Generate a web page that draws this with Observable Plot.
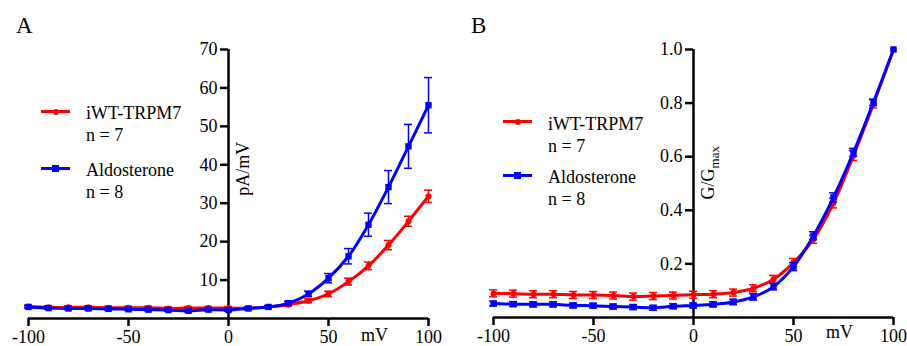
<!DOCTYPE html>
<html><head><meta charset="utf-8">
<script src="https://cdn.jsdelivr.net/npm/d3@7"></script>
<script src="https://cdn.jsdelivr.net/npm/@observablehq/plot@0.6"></script>
<style>
body{margin:0;background:#fff;}
#wrap{position:relative;width:907px;height:346px;overflow:hidden;font-family:"Liberation Serif","Times New Roman",serif;color:#000;}
.panel{position:absolute;top:0;}
.panel svg{overflow:visible;}
.lab{position:absolute;font-size:23px;line-height:22px;}
.leg{position:absolute;font-size:18px;line-height:22px;white-space:nowrap;}
.sw{position:absolute;height:3px;}
.mk{position:absolute;}
</style></head><body>
<div id="wrap">
  <div id="pa" class="panel" style="left:0px"></div>
  <div id="pb" class="panel" style="left:450px"></div>
  <div class="lab" style="left:16px;top:15px">A</div>
  <div class="lab" style="left:471px;top:15px">B</div>
</div>
<script>
// ---- data ----
const voltages = [-100,-90,-80,-70,-60,-50,-40,-30,-20,-10,0,10,20,30,40,50,60,70,80,90,100];
const seriesNames = ["iWT-TRPM7", "Aldosterone"];
const seriesN = ["n = 7", "n = 8"];

// Panel A: current density (pA/mV)
const currentWT    = [3.1,2.9,2.9,2.9,2.8,2.8,2.8,2.6,2.7,2.7,2.7,2.7,3.0,3.6,4.6,6.4,9.6,13.7,19.1,25.3,31.8];
const currentWTsem = [0.4,0.4,0.4,0.4,0.4,0.4,0.4,0.4,0.4,0.4,0.4,0.4,0.4,0.4,0.5,0.7,0.9,1.0,1.2,1.3,1.6];
const currentAldo    = [3.0,2.7,2.6,2.6,2.5,2.4,2.3,2.2,2.0,2.3,2.2,2.6,3.0,4.0,6.4,10.5,16.2,24.4,34.2,44.8,55.5];
const currentAldoSem = [0.3,0.3,0.3,0.3,0.3,0.3,0.3,0.3,0.3,0.3,0.3,0.3,0.3,0.5,0.7,1.2,2.0,3.0,4.3,5.7,7.2];

// Panel B: normalised conductance (G/Gmax)
const condWT    = [0.090,0.089,0.087,0.087,0.084,0.084,0.082,0.078,0.080,0.082,0.085,0.087,0.093,0.109,0.143,0.205,0.292,0.427,0.604,0.797,1.0];
const condWTsem = [0.013,0.013,0.013,0.013,0.013,0.013,0.013,0.013,0.013,0.013,0.013,0.013,0.013,0.013,0.014,0.015,0.015,0.018,0.018,0.015,0];
const condAldo    = [0.052,0.050,0.049,0.049,0.045,0.044,0.041,0.039,0.036,0.042,0.045,0.049,0.058,0.077,0.115,0.190,0.305,0.448,0.616,0.803,1.0];
const condAldoSem = [0.009,0.009,0.009,0.009,0.009,0.009,0.009,0.009,0.009,0.009,0.009,0.009,0.010,0.012,0.012,0.015,0.015,0.017,0.015,0.012,0];

const xTicks = [-100,-50,0,50,100];
const xTickLabels = ["-100","-50","0","50","100"];
const yTicksA = [10,20,30,40,50,60,70];
const yTickLabelsA = ["10","20","30","40","50","60","70"];
const yTicksB = [0.2,0.4,0.6,0.8,1.0];
const yTickLabelsB = ["0.2","0.4","0.6","0.8","1.0"];
const yTitleA = "pA/mV";
const yTitleB = "G/Gmax";
const xTitle = "mV";

// ---- drawing ----
const COLORS = ["#ff0000", "#0000ff"];
const SYMBOLS = ["circle", "square"];
const RADII = [3.0, 3.6];

function makePanel({width, marginLeft, marginRight, marginBottom, yDomain, yTicks, yTickLabels, series, yTitle, yTitleAt, mvDy}) {
  const marks = [];
  series.forEach((s, si) => {
    const rows = voltages.map((v, i) => ({v, y: s.values[i], e: s.sem[i]}));
    const err = rows.filter(d => d.e > 0);
    marks.push(
      Plot.line(rows, {x: "v", y: "y", stroke: COLORS[si], strokeWidth: 3, curve: "catmull-rom"}),
      Plot.ruleX(err, {x: "v", y1: d => d.y - d.e, y2: d => d.y + d.e, stroke: COLORS[si], strokeWidth: 1.5}),
      Plot.ruleY(err, {y: d => d.y - d.e, x1: d => d.v - 2, x2: d => d.v + 2, stroke: COLORS[si], strokeWidth: 1.5}),
      Plot.ruleY(err, {y: d => d.y + d.e, x1: d => d.v - 2, x2: d => d.v + 2, stroke: COLORS[si], strokeWidth: 1.5}),
      Plot.dot(rows, {x: "v", y: "y", symbol: SYMBOLS[si], r: RADII[si], fill: COLORS[si], stroke: "none"})
    );
  });
  return Plot.plot({
    width, height: 346, marginTop: 49, marginLeft, marginRight, marginBottom,
    x: {domain: [-100, 100]},
    y: {domain: yDomain, axis: null},
    style: {fontFamily: "Liberation Serif, Times New Roman, serif", fontSize: "18px", color: "#000", background: "transparent"},
    marks: [
      Plot.ruleY([yDomain[0]], {x1: -100, x2: 100, stroke: "#000", strokeWidth: 2.5}),
      Plot.axisX(xTicks, {tickSize: 8, tickPadding: 4, fontSize: 18, strokeWidth: 2.5, tickFormat: (d) => xTickLabels[xTicks.indexOf(d)], label: null}),
      Plot.ruleX([0], {y1: yDomain[0], y2: yDomain[1], stroke: "#000", strokeWidth: 2.5}),
      Plot.ruleY(yTicks, {y: d => d, x1: -4, x2: 0, stroke: "#000", strokeWidth: 2.5}),
      Plot.text(yTicks, {x: 0, y: d => d, text: (d, i) => yTickLabels[i], textAnchor: "end", dx: -11, fontSize: 18}),
      Plot.text([yTitle], {x: 7.5, y: yTitleAt, text: d => d, rotate: -90, fontSize: 18}),
      Plot.text([xTitle], {x: 73, y: yDomain[0], dy: mvDy, text: d => d, fontSize: 18}),
      ...marks
    ]
  });
}

const svgA = makePanel({
  width: 450, marginLeft: 28, marginRight: 22, marginBottom: 28,
  yDomain: [0, 70], yTicks: yTicksA, yTickLabels: yTickLabelsA,
  series: [{values: currentWT, sem: currentWTsem}, {values: currentAldo, sem: currentAldoSem}],
  yTitle: yTitleA, yTitleAt: 39, mvDy: 17
});
const svgB = makePanel({
  width: 457, marginLeft: 43, marginRight: 14, marginBottom: 29,
  yDomain: [0, 1], yTicks: yTicksB, yTickLabels: yTickLabelsB,
  series: [{values: condWT, sem: condWTsem}, {values: condAldo, sem: condAldoSem}],
  yTitle: yTitleB, yTitleAt: 0.54, mvDy: 15
});
document.getElementById("pa").appendChild(svgA);
document.getElementById("pb").appendChild(svgB);

// subscript for G/Gmax
svgB.querySelectorAll("text").forEach(t => {
  if (t.textContent === "G/Gmax") {
    t.textContent = "G/G";
    const ts = document.createElementNS("http://www.w3.org/2000/svg", "tspan");
    ts.setAttribute("dy", "5");
    ts.setAttribute("font-size", "13");
    ts.textContent = "max";
    t.appendChild(ts);
  }
});

// legends
const wrap = document.getElementById("wrap");
function legend(lineX, lineW, textX, lineYs, textTops) {
  seriesNames.forEach((name, si) => {
    const sw = document.createElement("div");
    sw.className = "sw";
    sw.style.cssText = `left:${lineX}px;top:${lineYs[si] - 1.5}px;width:${lineW}px;background:${COLORS[si]}`;
    wrap.appendChild(sw);
    const mk = document.createElement("div");
    mk.className = "mk";
    const s = si === 0 ? 6 : 7;
    mk.style.cssText = `left:${lineX + lineW / 2 - s / 2}px;top:${lineYs[si] - s / 2}px;width:${s}px;height:${s}px;background:${COLORS[si]};border-radius:${si === 0 ? "50%" : "0"}`;
    wrap.appendChild(mk);
    const tx = document.createElement("div");
    tx.className = "leg";
    tx.style.cssText = `left:${textX}px;top:${textTops[si]}px`;
    tx.innerHTML = name + "<br>" + seriesN[si];
    wrap.appendChild(tx);
  });
}
legend(41, 29, 86, [111.7, 168.3], [102, 159]);
legend(503, 29, 548, [121.7, 175], [113, 166]);
</script>
</body></html>
